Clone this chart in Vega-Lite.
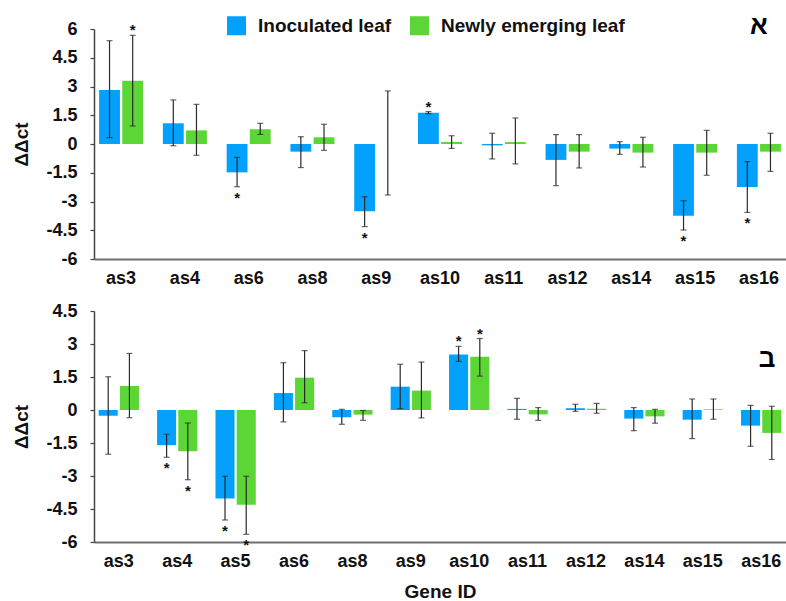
{
  "$schema": "https://vega.github.io/schema/vega-lite/v6.json",
  "background": "white",
  "padding": {"left": 12, "top": 13, "right": 0, "bottom": 0},
  "datasets": {
    "expr": [
      {"panel": "א", "gene": "as3", "leaf": "Inoculated leaf", "ddct": 2.82, "lo": 0.33, "hi": 5.39, "sig": ""},
      {"panel": "א", "gene": "as3", "leaf": "Newly emerging leaf", "ddct": 3.30, "lo": 0.94, "hi": 5.67, "sig": "*"},
      {"panel": "א", "gene": "as4", "leaf": "Inoculated leaf", "ddct": 1.08, "lo": -0.09, "hi": 2.30, "sig": ""},
      {"panel": "א", "gene": "as4", "leaf": "Newly emerging leaf", "ddct": 0.71, "lo": -0.59, "hi": 2.07, "sig": ""},
      {"panel": "א", "gene": "as6", "leaf": "Inoculated leaf", "ddct": -1.48, "lo": -2.23, "hi": -0.70, "sig": "*"},
      {"panel": "א", "gene": "as6", "leaf": "Newly emerging leaf", "ddct": 0.77, "lo": 0.50, "hi": 1.08, "sig": ""},
      {"panel": "א", "gene": "as8", "leaf": "Inoculated leaf", "ddct": -0.40, "lo": -1.23, "hi": 0.38, "sig": ""},
      {"panel": "א", "gene": "as8", "leaf": "Newly emerging leaf", "ddct": 0.35, "lo": -0.33, "hi": 1.03, "sig": ""},
      {"panel": "א", "gene": "as9", "leaf": "Inoculated leaf", "ddct": -3.51, "lo": -4.31, "hi": -2.75, "sig": "*"},
      {"panel": "א", "gene": "as9", "leaf": "Newly emerging leaf", "ddct": 0.0, "lo": -2.66, "hi": 2.77, "sig": ""},
      {"panel": "א", "gene": "as10", "leaf": "Inoculated leaf", "ddct": 1.63, "lo": 1.58, "hi": 1.69, "sig": "*"},
      {"panel": "א", "gene": "as10", "leaf": "Newly emerging leaf", "ddct": 0.11, "lo": -0.23, "hi": 0.43, "sig": ""},
      {"panel": "א", "gene": "as11", "leaf": "Inoculated leaf", "ddct": -0.07, "lo": -0.78, "hi": 0.56, "sig": ""},
      {"panel": "א", "gene": "as11", "leaf": "Newly emerging leaf", "ddct": 0.10, "lo": -1.04, "hi": 1.36, "sig": ""},
      {"panel": "א", "gene": "as12", "leaf": "Inoculated leaf", "ddct": -0.83, "lo": -2.17, "hi": 0.49, "sig": ""},
      {"panel": "א", "gene": "as12", "leaf": "Newly emerging leaf", "ddct": -0.40, "lo": -1.25, "hi": 0.49, "sig": ""},
      {"panel": "א", "gene": "as14", "leaf": "Inoculated leaf", "ddct": -0.24, "lo": -0.54, "hi": 0.12, "sig": ""},
      {"panel": "א", "gene": "as14", "leaf": "Newly emerging leaf", "ddct": -0.45, "lo": -1.20, "hi": 0.35, "sig": ""},
      {"panel": "א", "gene": "as15", "leaf": "Inoculated leaf", "ddct": -3.74, "lo": -4.49, "hi": -2.96, "sig": "*"},
      {"panel": "א", "gene": "as15", "leaf": "Newly emerging leaf", "ddct": -0.45, "lo": -1.63, "hi": 0.71, "sig": ""},
      {"panel": "א", "gene": "as16", "leaf": "Inoculated leaf", "ddct": -2.24, "lo": -3.57, "hi": -0.92, "sig": "*"},
      {"panel": "א", "gene": "as16", "leaf": "Newly emerging leaf", "ddct": -0.40, "lo": -1.43, "hi": 0.56, "sig": ""},

      {"panel": "ב", "gene": "as3", "leaf": "Inoculated leaf", "ddct": -0.26, "lo": -2.01, "hi": 1.51, "sig": ""},
      {"panel": "ב", "gene": "as3", "leaf": "Newly emerging leaf", "ddct": 1.09, "lo": -0.35, "hi": 2.57, "sig": ""},
      {"panel": "ב", "gene": "as4", "leaf": "Inoculated leaf", "ddct": -1.60, "lo": -2.15, "hi": -1.10, "sig": "*"},
      {"panel": "ב", "gene": "as4", "leaf": "Newly emerging leaf", "ddct": -1.87, "lo": -3.17, "hi": -0.59, "sig": "*"},
      {"panel": "ב", "gene": "as5", "leaf": "Inoculated leaf", "ddct": -4.02, "lo": -5.00, "hi": -3.01, "sig": "*"},
      {"panel": "ב", "gene": "as5", "leaf": "Newly emerging leaf", "ddct": -4.31, "lo": -5.65, "hi": -3.01, "sig": "*"},
      {"panel": "ב", "gene": "as6", "leaf": "Inoculated leaf", "ddct": 0.77, "lo": -0.54, "hi": 2.15, "sig": ""},
      {"panel": "ב", "gene": "as6", "leaf": "Newly emerging leaf", "ddct": 1.47, "lo": 0.33, "hi": 2.70, "sig": ""},
      {"panel": "ב", "gene": "as8", "leaf": "Inoculated leaf", "ddct": -0.33, "lo": -0.65, "hi": 0.03, "sig": ""},
      {"panel": "ב", "gene": "as8", "leaf": "Newly emerging leaf", "ddct": -0.21, "lo": -0.47, "hi": -0.02, "sig": ""},
      {"panel": "ב", "gene": "as9", "leaf": "Inoculated leaf", "ddct": 1.06, "lo": 0.06, "hi": 2.08, "sig": ""},
      {"panel": "ב", "gene": "as9", "leaf": "Newly emerging leaf", "ddct": 0.88, "lo": -0.36, "hi": 2.18, "sig": ""},
      {"panel": "ב", "gene": "as10", "leaf": "Inoculated leaf", "ddct": 2.52, "lo": 2.21, "hi": 2.89, "sig": "*"},
      {"panel": "ב", "gene": "as10", "leaf": "Newly emerging leaf", "ddct": 2.42, "lo": 1.54, "hi": 3.25, "sig": "*"},
      {"panel": "ב", "gene": "as11", "leaf": "Inoculated leaf", "ddct": 0.05, "lo": -0.42, "hi": 0.53, "sig": ""},
      {"panel": "ב", "gene": "as11", "leaf": "Newly emerging leaf", "ddct": -0.20, "lo": -0.47, "hi": 0.11, "sig": ""},
      {"panel": "ב", "gene": "as12", "leaf": "Inoculated leaf", "ddct": 0.08, "lo": -0.06, "hi": 0.26, "sig": ""},
      {"panel": "ב", "gene": "as12", "leaf": "Newly emerging leaf", "ddct": 0.06, "lo": -0.15, "hi": 0.30, "sig": ""},
      {"panel": "ב", "gene": "as14", "leaf": "Inoculated leaf", "ddct": -0.39, "lo": -0.94, "hi": 0.11, "sig": ""},
      {"panel": "ב", "gene": "as14", "leaf": "Newly emerging leaf", "ddct": -0.29, "lo": -0.60, "hi": 0.03, "sig": ""},
      {"panel": "ב", "gene": "as15", "leaf": "Inoculated leaf", "ddct": -0.44, "lo": -1.30, "hi": 0.50, "sig": ""},
      {"panel": "ב", "gene": "as15", "leaf": "Newly emerging leaf", "ddct": 0.03, "lo": -0.42, "hi": 0.50, "sig": ""},
      {"panel": "ב", "gene": "as16", "leaf": "Inoculated leaf", "ddct": -0.71, "lo": -1.65, "hi": 0.21, "sig": ""},
      {"panel": "ב", "gene": "as16", "leaf": "Newly emerging leaf", "ddct": -1.04, "lo": -2.25, "hi": 0.17, "sig": ""}
    ],
    "tagA": [{"label": "א"}],
    "tagB": [{"label": "ב"}]
  },
  "config": {
    "font": "Liberation Sans",
    "view": {"stroke": null},
    "axis": {
      "grid": false,
      "labelFont": "Liberation Sans",
      "labelFontWeight": "bold",
      "labelFontSize": 18,
      "labelColor": "#111111",
      "titleFont": "Liberation Sans",
      "titleFontWeight": "bold",
      "titleFontSize": 19,
      "titleColor": "#111111"
    },
    "axisX": {
      "ticks": false,
      "labelAngle": 0,
      "labelPadding": 10,
      "domainColor": "#6e6e6e",
      "domainWidth": 2
    },
    "axisY": {
      "domainColor": "#444444",
      "domainWidth": 1.5,
      "tickColor": "#444444",
      "tickSize": 4,
      "tickWidth": 1.2,
      "labelPadding": 13,
      "titlePadding": 14,
      "labelOverlap": false,
      "labelExpr": "'' + datum.value"
    }
  },
  "spacing": 15,
  "resolve": {
    "scale": {"x": "independent", "y": "independent", "xOffset": "independent", "color": "independent"},
    "legend": {"color": "independent"}
  },
  "vconcat": [
    {
      "width": 692,
      "height": 230,
      "layer": [
        {
          "data": {"name": "expr"},
          "transform": [{"filter": "datum.panel == 'א'"}],
          "encoding": {
            "x": {"field": "gene", "type": "nominal", "sort": null,
                  "scale": {"domain": ["as3", "as4", "as6", "as8", "as9", "as10", "as11", "as12", "as14", "as15", "as16"], "paddingInner": 0.31, "paddingOuter": 0.08},
                  "axis": {"title": null}},
            "xOffset": {"field": "leaf", "type": "nominal", "scale": {"domain": ["Inoculated leaf", "Newly emerging leaf"], "paddingInner": 0.1}}
          },
          "layer": [
            {
              "mark": {"type": "bar"},
              "encoding": {
                "y": {"field": "ddct", "type": "quantitative",
                      "scale": {"domain": [-6, 6], "nice": false, "zero": false},
                      "axis": {"title": "ΔΔct", "values": [-6, -4.5, -3, -1.5, 0, 1.5, 3, 4.5, 6], "tickCount": 9}},
                "color": {"field": "leaf", "type": "nominal",
                          "scale": {"domain": ["Inoculated leaf", "Newly emerging leaf"], "range": ["#03a1fc", "#5cd636"]},
                          "legend": {"title": null, "orient": "none", "legendX": 133, "legendY": -13,
                                     "direction": "horizontal", "symbolType": "square", "symbolSize": 361,
                                     "symbolStrokeWidth": 0, "labelFontSize": 19, "labelFontWeight": "bold",
                                     "labelColor": "#111111", "labelOffset": 12, "columnPadding": 18, "labelLimit": 300}}
              }
            },
            {
              "mark": {"type": "rule", "color": "#2a2a2a", "strokeWidth": 1.2},
              "encoding": {"y": {"field": "lo", "type": "quantitative", "axis": {"title": "ΔΔct", "values": [-6, -4.5, -3, -1.5, 0, 1.5, 3, 4.5, 6], "tickCount": 9}}, "y2": {"field": "hi"}}
            },
            {
              "mark": {"type": "tick", "color": "#2a2a2a", "thickness": 1.2, "size": 6},
              "encoding": {"y": {"field": "lo", "type": "quantitative", "axis": {"title": "ΔΔct", "values": [-6, -4.5, -3, -1.5, 0, 1.5, 3, 4.5, 6], "tickCount": 9}}}
            },
            {
              "mark": {"type": "tick", "color": "#2a2a2a", "thickness": 1.2, "size": 6},
              "encoding": {"y": {"field": "hi", "type": "quantitative", "axis": {"title": "ΔΔct", "values": [-6, -4.5, -3, -1.5, 0, 1.5, 3, 4.5, 6], "tickCount": 9}}}
            },
            {
              "transform": [{"filter": "datum.sig != '' && datum.ddct > 0"}],
              "mark": {"type": "text", "baseline": "alphabetic", "dy": 0, "fontSize": 15, "fontWeight": "bold", "color": "#111111"},
              "encoding": {"y": {"field": "hi", "type": "quantitative", "axis": {"title": "ΔΔct", "values": [-6, -4.5, -3, -1.5, 0, 1.5, 3, 4.5, 6], "tickCount": 9}}, "text": {"field": "sig"}}
            },
            {
              "transform": [{"filter": "datum.sig != '' && datum.ddct < 0"}],
              "mark": {"type": "text", "baseline": "alphabetic", "dy": 16, "fontSize": 15, "fontWeight": "bold", "color": "#111111"},
              "encoding": {"y": {"field": "lo", "type": "quantitative", "axis": {"title": "ΔΔct", "values": [-6, -4.5, -3, -1.5, 0, 1.5, 3, 4.5, 6], "tickCount": 9}}, "text": {"field": "sig"}}
            }
          ]
        },
        {
          "data": {"name": "tagA"},
          "mark": {"type": "text", "fontSize": 26, "fontWeight": "bold", "baseline": "middle", "align": "center", "dy": -3, "color": "#000000"},
          "encoding": {"x": {"datum": "as16", "type": "nominal"}, "y": {"datum": 6, "type": "quantitative", "axis": {"title": "ΔΔct", "values": [-6, -4.5, -3, -1.5, 0, 1.5, 3, 4.5, 6], "tickCount": 9}}, "text": {"field": "label"}}
        }
      ]
    },
    {
      "width": 692,
      "height": 231,
      "layer": [
        {
          "data": {"name": "expr"},
          "transform": [{"filter": "datum.panel == 'ב'"}],
          "encoding": {
            "x": {"field": "gene", "type": "nominal", "sort": null,
                  "scale": {"domain": ["as3", "as4", "as5", "as6", "as8", "as9", "as10", "as11", "as12", "as14", "as15", "as16"], "paddingInner": 0.31, "paddingOuter": 0.08},
                  "axis": {"title": "Gene ID", "titlePadding": 12}},
            "xOffset": {"field": "leaf", "type": "nominal", "scale": {"domain": ["Inoculated leaf", "Newly emerging leaf"], "paddingInner": 0.1}}
          },
          "layer": [
            {
              "mark": {"type": "bar"},
              "encoding": {
                "y": {"field": "ddct", "type": "quantitative",
                      "scale": {"domain": [-6, 4.5], "nice": false, "zero": false},
                      "axis": {"title": "ΔΔct", "values": [-6, -4.5, -3, -1.5, 0, 1.5, 3, 4.5], "tickCount": 8}},
                "color": {"field": "leaf", "type": "nominal",
                          "scale": {"domain": ["Inoculated leaf", "Newly emerging leaf"], "range": ["#03a1fc", "#5cd636"]},
                          "legend": null}
              }
            },
            {
              "mark": {"type": "rule", "color": "#2a2a2a", "strokeWidth": 1.2},
              "encoding": {"y": {"field": "lo", "type": "quantitative", "axis": {"title": "ΔΔct", "values": [-6, -4.5, -3, -1.5, 0, 1.5, 3, 4.5], "tickCount": 8}}, "y2": {"field": "hi"}}
            },
            {
              "mark": {"type": "tick", "color": "#2a2a2a", "thickness": 1.2, "size": 6},
              "encoding": {"y": {"field": "lo", "type": "quantitative", "axis": {"title": "ΔΔct", "values": [-6, -4.5, -3, -1.5, 0, 1.5, 3, 4.5], "tickCount": 8}}}
            },
            {
              "mark": {"type": "tick", "color": "#2a2a2a", "thickness": 1.2, "size": 6},
              "encoding": {"y": {"field": "hi", "type": "quantitative", "axis": {"title": "ΔΔct", "values": [-6, -4.5, -3, -1.5, 0, 1.5, 3, 4.5], "tickCount": 8}}}
            },
            {
              "transform": [{"filter": "datum.sig != '' && datum.ddct > 0"}],
              "mark": {"type": "text", "baseline": "alphabetic", "dy": 0, "fontSize": 15, "fontWeight": "bold", "color": "#111111"},
              "encoding": {"y": {"field": "hi", "type": "quantitative", "axis": {"title": "ΔΔct", "values": [-6, -4.5, -3, -1.5, 0, 1.5, 3, 4.5], "tickCount": 8}}, "text": {"field": "sig"}}
            },
            {
              "transform": [{"filter": "datum.sig != '' && datum.ddct < 0"}],
              "mark": {"type": "text", "baseline": "alphabetic", "dy": 16, "fontSize": 15, "fontWeight": "bold", "color": "#111111"},
              "encoding": {"y": {"field": "lo", "type": "quantitative", "axis": {"title": "ΔΔct", "values": [-6, -4.5, -3, -1.5, 0, 1.5, 3, 4.5], "tickCount": 8}}, "text": {"field": "sig"}}
            }
          ]
        },
        {
          "data": {"name": "tagB"},
          "mark": {"type": "text", "fontSize": 26, "fontWeight": "bold", "baseline": "middle", "align": "center", "dx": 6, "color": "#000000"},
          "encoding": {"x": {"datum": "as16", "type": "nominal"}, "y": {"datum": 2.3, "type": "quantitative", "axis": {"title": "ΔΔct", "values": [-6, -4.5, -3, -1.5, 0, 1.5, 3, 4.5], "tickCount": 8}}, "text": {"field": "label"}}
        }
      ]
    }
  ]
}
